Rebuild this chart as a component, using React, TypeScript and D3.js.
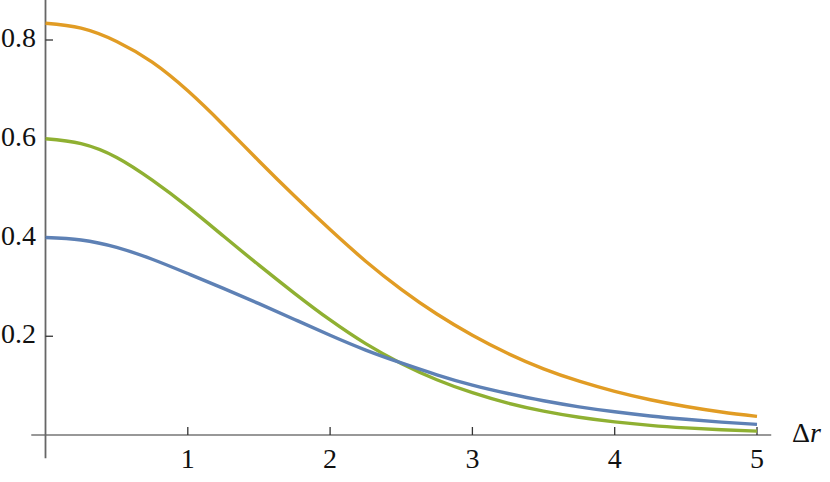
import React from "react";
import * as d3 from "d3";

const xs = [0, 0.25, 0.5, 0.75, 1, 1.25, 1.5, 1.75, 2, 2.25, 2.5, 2.75, 3, 3.25, 3.5, 3.75, 4, 4.25, 4.5, 4.75, 5];
const orange = [0.834, 0.824, 0.797, 0.755, 0.697, 0.628, 0.555, 0.484, 0.416, 0.352, 0.295, 0.245, 0.202, 0.165, 0.134, 0.109, 0.0884, 0.0714, 0.0577, 0.0466, 0.0377];
const green = [0.6, 0.59, 0.562, 0.516, 0.462, 0.403, 0.344, 0.287, 0.233, 0.185, 0.145, 0.112, 0.0856, 0.0645, 0.0484, 0.0359, 0.0266, 0.0196, 0.0145, 0.0106, 0.0078];
const blue = [0.4, 0.395, 0.38, 0.356, 0.327, 0.297, 0.266, 0.234, 0.202, 0.172, 0.146, 0.122, 0.101, 0.084, 0.0693, 0.0571, 0.047, 0.0386, 0.0318, 0.0261, 0.0216];
const xTicks = [1, 2, 3, 4, 5];
const yTicks = [0.2, 0.4, 0.6, 0.8];
const yTickLabels = ["0.2", "0.4", "0.6", "0.8"];

const series = [
  { name: "orange", values: orange, color: "#E19C24" },
  { name: "green", values: green, color: "#8FB032" },
  { name: "blue", values: blue, color: "#5E81B5" },
];

const textStyle: React.CSSProperties = { fontFamily: '"Liberation Serif"', fontSize: "28px" };

export default function App() {
  const W = 830;
  const H = 482;
  const x = d3.scaleLinear().domain([0, 5]).range([45.5, 757]);
  const y = d3.scaleLinear().domain([0, 0.8]).range([435, 40]);
  const line = d3
    .line<number>()
    .x((_, i) => x(xs[i]))
    .y((d) => y(d))
    .curve(d3.curveNatural);
  return (
    <svg
      width={W}
      height={H}
      style={{ position: "absolute", left: 0, top: 0, background: "#fff" }}
    >
      <line x1={x(-0.1)} x2={x(5.1)} y1={y(0)} y2={y(0)} stroke="#333" strokeWidth={1.2} />
      <line x1={x(0)} x2={x(0)} y1={0} y2={y(-0.047)} stroke="#666" strokeWidth={1.8} />
      {xTicks.map((t) => (
        <g key={"xt" + t}>
          <line x1={x(t)} x2={x(t)} y1={y(0)} y2={y(0) - 8} stroke="#333" strokeWidth={1.3} />
          <text x={x(t)} y={468} textAnchor="middle" style={textStyle} fill="#111">
            {t}
          </text>
        </g>
      ))}
      {yTicks.map((t, i) => (
        <g key={"yt" + t}>
          <line x1={x(0)} x2={x(0) + 7.5} y1={y(t)} y2={y(t)} stroke="#333" strokeWidth={1.3} />
          <text x={36} y={y(t) + 7} textAnchor="end" style={textStyle} fill="#111">
            {yTickLabels[i]}
          </text>
        </g>
      ))}
      {series.map((s) => (
        <path key={s.name} d={line(s.values) || ""} fill="none" stroke={s.color} strokeWidth={3.4} />
      ))}
      <text x={792} y={442} style={textStyle} fill="#111">
        Δ<tspan style={{ fontStyle: "italic" }}>r</tspan>
      </text>
    </svg>
  );
}
